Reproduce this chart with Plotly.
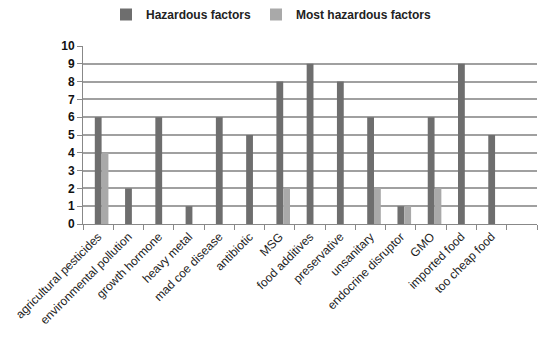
import plotly.graph_objects as go

categories = ["agricultural pesticides", "environmental pollution", "growth hormone",
              "heavy metal", "mad coe disease", "antibiotic", "MSG", "food additives",
              "preservative", "unsanitary", "endocrine disruptor", "GMO",
              "imported food", "too cheap food", " "]
hazardous = [6, 2, 6, 1, 6, 5, 8, 9, 8, 6, 1, 6, 9, 5, None]
most_hazardous = [4, 0, 0, 0, 0, 0, 2, 0, 0, 2, 1, 2, 0, 0, None]
y_ticks = list(range(0, 11))

fig = go.Figure()
fig.add_trace(go.Bar(x=categories, y=hazardous, name="Hazardous factors",
                     width=0.225, offset=-0.11,
                     marker=dict(color="#6e6e6e", line=dict(width=0))))
fig.add_trace(go.Bar(x=categories, y=most_hazardous, name="Most hazardous factors",
                     width=0.225, offset=0.115,
                     marker=dict(color="#a9a9a9", line=dict(width=0))))

fig.update_layout(
    width=543, height=337,
    margin=dict(l=83, r=6, t=46, b=113),
    paper_bgcolor="white", plot_bgcolor="white",
    barmode="overlay",
    font=dict(family="Liberation Sans", color="#111", size=12),
    legend=dict(orientation="h", x=0.5, xref="container", xanchor="center",
                y=1.0, yref="container", yanchor="top",
                font=dict(size=12, color="#222", weight="bold"),
                itemwidth=30, traceorder="normal"),
    xaxis=dict(type="category", tickangle=-45, showline=True, linecolor="#888",
               linewidth=1, ticks="outside", tickson="boundaries", ticklen=5,
               tickcolor="#888", showgrid=False,
               tickfont=dict(size=12, color="#222")),
    yaxis=dict(range=[0, 10], tickvals=y_ticks, showline=True, linecolor="#888",
               linewidth=1, ticks="outside", ticklen=5, tickcolor="#888",
               showgrid=True, gridcolor="#a0a0a0", gridwidth=1.6,
               tickfont=dict(size=12, family="Liberation Sans", weight="bold"),
               zeroline=False),
)
fig.write_html("out.html")
